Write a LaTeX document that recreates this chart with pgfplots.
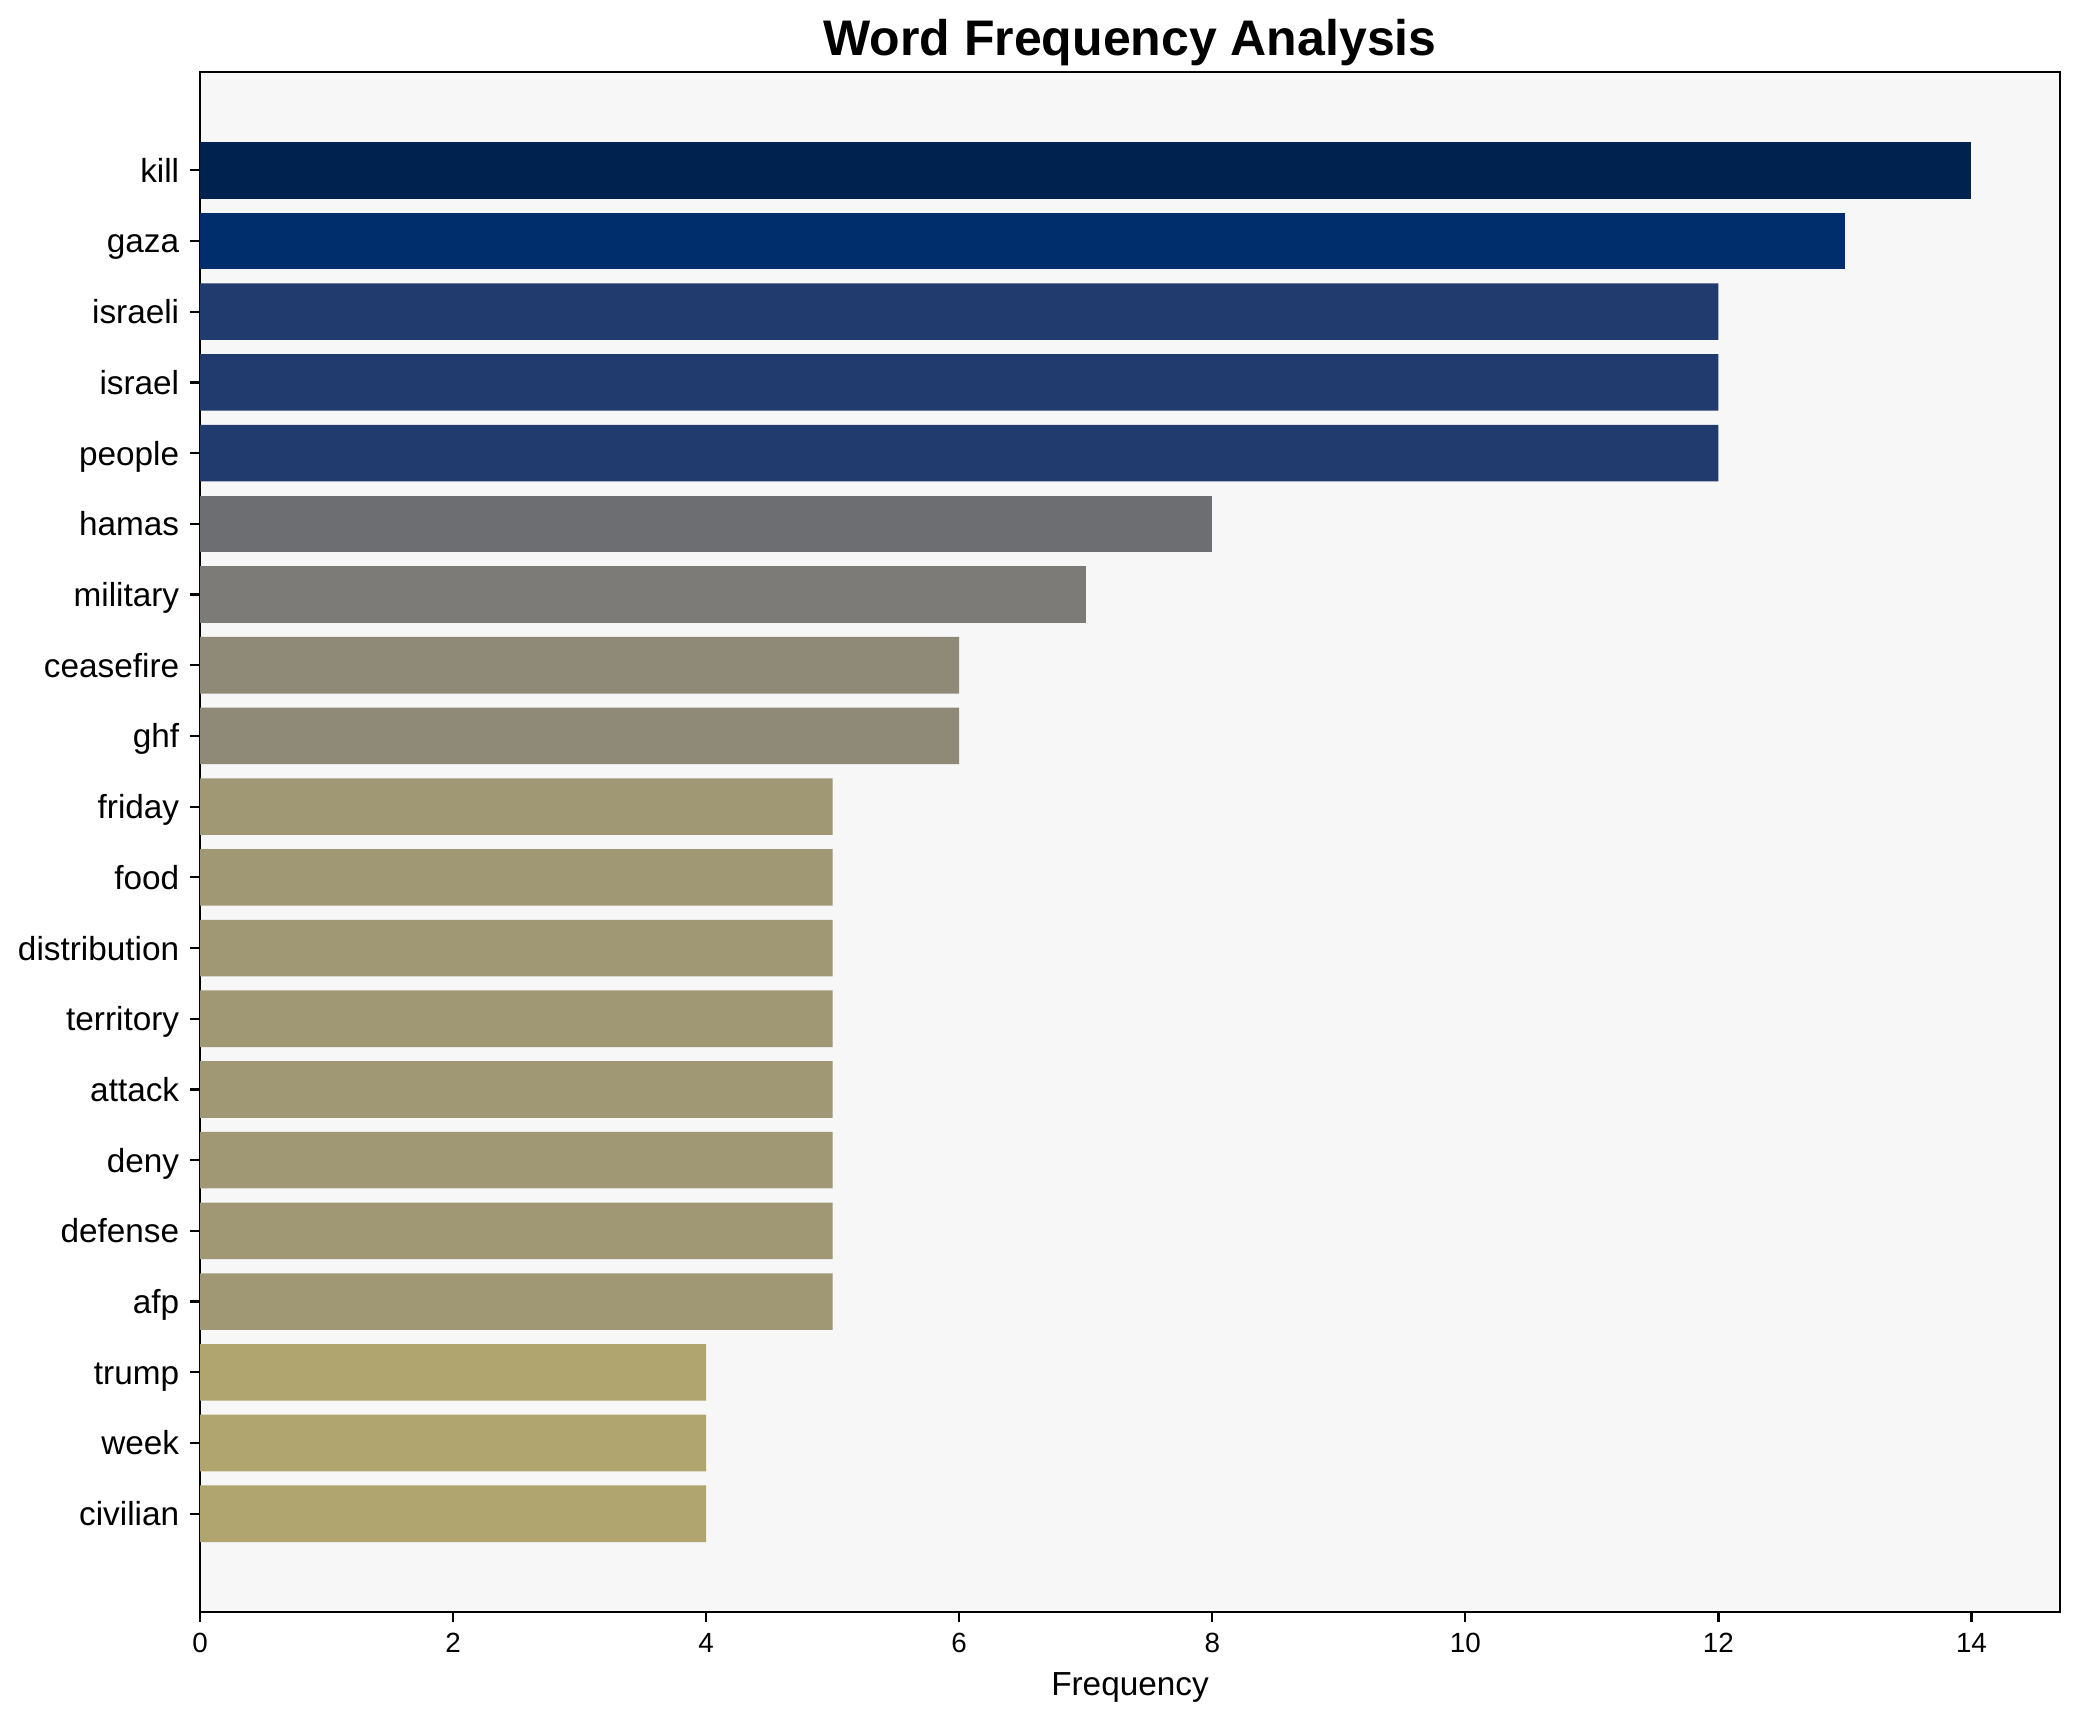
\documentclass[border=0pt]{standalone}
\usepackage{pgfplots}
\pgfplotsset{compat=1.18}
\usepackage{fontspec}
\setmainfont{Liberation Sans}
\definecolor{bg}{HTML}{F7F7F7}
\definecolor{c14}{HTML}{00224E}
\definecolor{c13}{HTML}{002E6C}
\definecolor{c12}{HTML}{213B6E}
\definecolor{c8}{HTML}{6D6E72}
\definecolor{c7}{HTML}{7C7B78}
\definecolor{c6}{HTML}{8F8A78}
\definecolor{c5}{HTML}{A09775}
\definecolor{c4}{HTML}{B0A56F}
\begin{document}
\begin{tikzpicture}
\useasboundingbox (-72pt,-39.6pt) rectangle (676.8pt,580.32pt);
\begin{axis}[
  at={(0,0)}, anchor=south west,
  scale only axis, width=669.6pt, height=554.4pt,
  xmin=0, xmax=14.7, ymin=-1.39, ymax=20.39, y dir=reverse,
  xtick={0,2,...,14},
  ytick={0,...,19},
  yticklabels={kill,gaza,israeli,israel,people,hamas,military,ceasefire,ghf,friday,food,distribution,territory,attack,deny,defense,afp,trump,week,civilian},
  tick pos=left, tick align=outside, major tick length=3.5pt,
  tick style={black, line width=0.8pt},
  axis line style={line width=0.8pt},
  axis background/.style={fill=bg},
  /pgf/number format/assume math mode=true,
  xticklabel style={font=\fontsize{10}{12}\selectfont, inner sep=0pt, anchor=north, yshift=-4pt},
  yticklabel style={font=\fontsize{12}{14}\selectfont, inner sep=0pt, anchor=base east, xshift=-3.8pt, yshift=-4.3pt},
  xlabel={Frequency},
  xlabel style={at={(axis description cs:0.5,0)}, anchor=base, yshift=-29.9pt, font=\fontsize{12}{14}\selectfont, inner sep=0pt},
  title={Word Frequency Analysis},
  title style={at={(axis description cs:0.5,1)}, anchor=base, yshift=-0.2pt, font=\fontsize{18}{21}\selectfont\bfseries, inner sep=0pt},
  xbar, bar width=0.8, bar shift=0pt,
]
\addplot[fill=c14, draw=none] coordinates {(14,0)};
\addplot[fill=c13, draw=none] coordinates {(13,1)};
\addplot[fill=c12, draw=none] coordinates {(12,2) (12,3) (12,4)};
\addplot[fill=c8, draw=none] coordinates {(8,5)};
\addplot[fill=c7, draw=none] coordinates {(7,6)};
\addplot[fill=c6, draw=none] coordinates {(6,7) (6,8)};
\addplot[fill=c5, draw=none] coordinates {(5,9) (5,10) (5,11) (5,12) (5,13) (5,14) (5,15) (5,16)};
\addplot[fill=c4, draw=none] coordinates {(4,17) (4,18) (4,19)};
\end{axis}
\end{tikzpicture}
\end{document}
